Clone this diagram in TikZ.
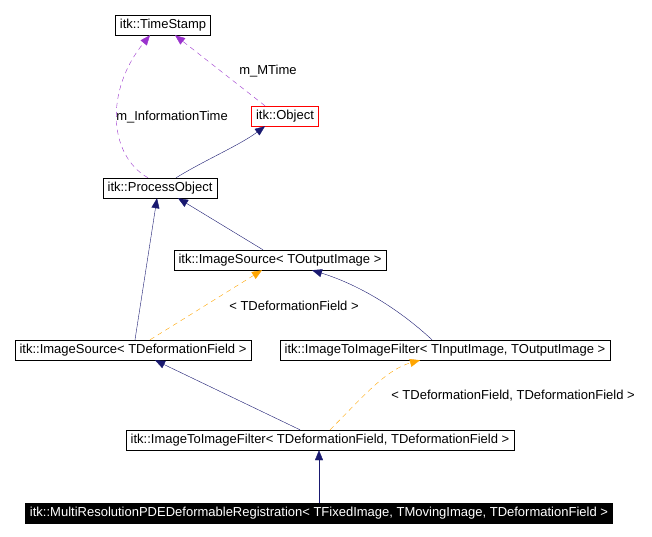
\documentclass[tikz,border=0pt]{standalone}
\usepackage{fontspec}
\setmainfont{Liberation Sans}
\usepackage{xcolor}
\usetikzlibrary{arrows.meta}
\definecolor{inherit}{HTML}{191970}
\definecolor{usage}{HTML}{9A32CD}
\definecolor{templ}{HTML}{FFA500}

\begin{document}
\begin{tikzpicture}[
 x=1pt,y=-1pt,
 cls/.style={draw=black,fill=white,inner xsep=4.5pt,inner ysep=0pt,minimum height=20pt,font=\fontsize{13}{15}\selectfont},
 lbl/.style={font=\fontsize{13}{15}\selectfont,inner sep=1pt},
 base/.style={-{Triangle[length=10pt,width=8pt]},draw=inherit,color=inherit},
 member/.style={-{Triangle[length=10pt,width=8pt]},draw=usage,color=usage,dash pattern=on 5pt off 4pt},
 instance/.style={-{Triangle[length=10pt,width=8pt]},draw=templ,color=templ,dash pattern=on 5pt off 4pt}
]
\useasboundingbox (0,0) rectangle (652,537);
\node[cls] (stamp) at (163,25) {itk::TimeStamp};
\node[cls,draw=red] (object) at (285,116) {itk::Object};
\node[cls] (process) at (160,188) {itk::ProcessObject};
\node[cls] (srcout) at (280,260) {itk::ImageSource< TOutputImage >};
\node[cls] (srcfield) at (133,350) {itk::ImageSource< TDeformationField >};
\node[cls] (filtio) at (445,350) {itk::ImageToImageFilter< TInputImage, TOutputImage >};
\node[cls] (filtff) at (320,440) {itk::ImageToImageFilter< TDeformationField, TDeformationField >};
\node[cls,fill=black,text=white] (multires) at (319,513) {itk::MultiResolutionPDEDeformableRegistration< TFixedImage, TMovingImage, TDeformationField >};
% usage relations
\draw[member] ([xshift=-20pt]object.north) -- ([xshift=12pt]stamp.south);
\node[lbl] (mtime) at (268,71) {m\_MTime};
\draw[member] ([xshift=-12pt]process.north) .. controls (108,155) and (105,90) .. ([xshift=-13pt]stamp.south);
\node[lbl] (infotime) at (172,117) {m\_InformationTime};
% inheritance
\draw[base] ([xshift=16pt]process.north) .. controls (205,160) and (240,145) .. ([xshift=-20pt]object.south);
\draw[base] ([xshift=-17pt]srcout.north) -- ([xshift=18pt]process.south);
\draw[base] ([xshift=2pt]srcfield.north) -- ([xshift=-3pt]process.south);
\draw[base] ([xshift=-13pt]filtio.north) .. controls (400,310) and (360,285) .. ([xshift=32pt]srcout.south);
\draw[base] ([xshift=-20pt]filtff.north) -- ([xshift=22pt]srcfield.south);
\draw[base] (multires.north) -- (multires.north |- filtff.south);
% template instances
\draw[instance] ([xshift=17pt]srcfield.north) -- ([xshift=-18pt]srcout.south);
\node[lbl] (argone) at (294,306) {< TDeformationField >};
\draw[instance] ([xshift=10pt]filtff.north) .. controls (360,400) and (385,370) .. ([xshift=-25pt]filtio.south);
\node[lbl] (argtwo) at (513,396) {< TDeformationField, TDeformationField >};
\end{tikzpicture}
\end{document}
